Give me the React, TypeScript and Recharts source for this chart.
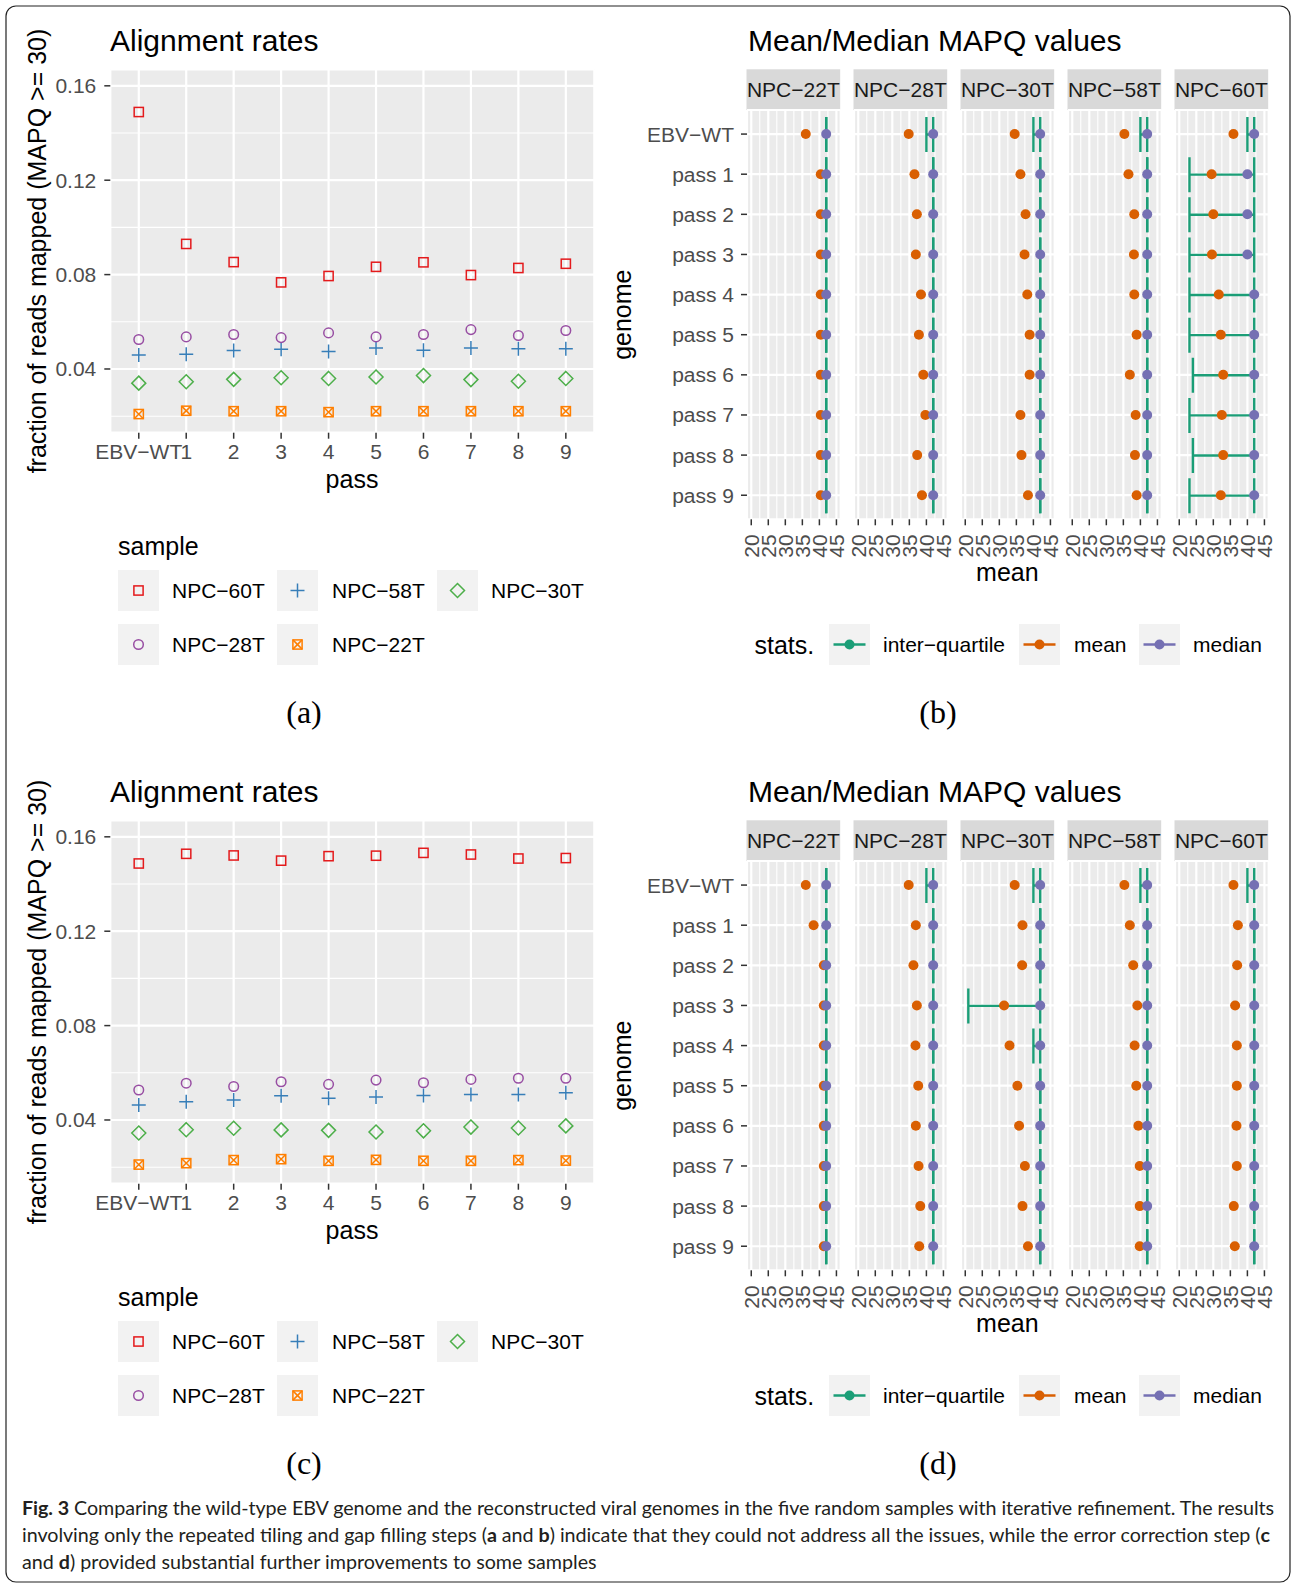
import React from 'react';
import { ComposedChart, Line, Bar, XAxis, YAxis, CartesianGrid } from 'recharts';

// ---- categories / tick labels ----
const passLabels = ['EBV−WT', '1', '2', '3', '4', '5', '6', '7', '8', '9'];
const genomeLabels = ['EBV−WT', 'pass 1', 'pass 2', 'pass 3', 'pass 4', 'pass 5', 'pass 6', 'pass 7', 'pass 8', 'pass 9'];
const sampleNames = ['NPC−60T', 'NPC−58T', 'NPC−30T', 'NPC−28T', 'NPC−22T'];
const facetNames = ['NPC−22T', 'NPC−28T', 'NPC−30T', 'NPC−58T', 'NPC−60T'];
const statNames = ['inter−quartile', 'mean', 'median'];
const rateTicks = [0.04, 0.08, 0.12, 0.16];
const rateMinorTicks = [0.02, 0.06, 0.1, 0.14];
const meanTicks = [20, 25, 30, 35, 40, 45];
const meanMinorTicks = [22.5, 27.5, 32.5, 37.5, 42.5];

// ---- (a) alignment rates, tiling + gap filling only ----
const ratesA60 = [0.1489, 0.093, 0.0853, 0.0767, 0.0794, 0.0833, 0.0852, 0.0798, 0.0828, 0.0846];
const ratesA58 = [0.0459, 0.0462, 0.0478, 0.0484, 0.0474, 0.0489, 0.0479, 0.0489, 0.0486, 0.0486];
const ratesA30 = [0.034, 0.0346, 0.0356, 0.0363, 0.036, 0.0366, 0.0372, 0.0355, 0.0348, 0.036];
const ratesA28 = [0.0525, 0.0536, 0.0546, 0.0533, 0.0553, 0.0536, 0.0546, 0.0567, 0.0542, 0.0563];
const ratesA22 = [0.0209, 0.0223, 0.0221, 0.0221, 0.0217, 0.0221, 0.0221, 0.0221, 0.0221, 0.0221];

// ---- (c) alignment rates, with error correction ----
const ratesC60 = [0.1487, 0.1528, 0.1521, 0.1499, 0.1518, 0.152, 0.1532, 0.1525, 0.1508, 0.151];
const ratesC58 = [0.0463, 0.0477, 0.0485, 0.0503, 0.0492, 0.0497, 0.0504, 0.0508, 0.0508, 0.0515];
const ratesC30 = [0.0345, 0.0359, 0.0365, 0.0358, 0.0356, 0.0349, 0.0354, 0.037, 0.0366, 0.0375];
const ratesC28 = [0.0527, 0.0556, 0.0542, 0.0562, 0.0551, 0.0569, 0.0558, 0.0572, 0.0577, 0.0577];
const ratesC22 = [0.0211, 0.0217, 0.023, 0.0234, 0.0227, 0.0231, 0.0227, 0.0227, 0.023, 0.0228];

// ---- (b) MAPQ stats ----
const bMean22 = [36.0, 40.4, 40.4, 40.4, 40.4, 40.4, 40.4, 40.4, 40.4, 40.4];
const bMedian22 = [42, 42, 42, 42, 42, 42, 42, 42, 42, 42];
const bQ1_22 = [42, 42, 42, 42, 42, 42, 42, 42, 42, 42];
const bQ3_22 = [42, 42, 42, 42, 42, 42, 42, 42, 42, 42];
const bMean28 = [34.8, 36.5, 37.2, 36.9, 38.4, 37.8, 39.1, 39.7, 37.3, 38.7];
const bMedian28 = [42, 42, 42, 42, 42, 42, 42, 42, 42, 42];
const bQ1_28 = [40, 42, 42, 42, 42, 42, 42, 42, 42, 42];
const bQ3_28 = [42, 42, 42, 42, 42, 42, 42, 42, 42, 42];
const bMean30 = [34.5, 36.2, 37.7, 37.4, 38.2, 38.9, 38.9, 36.2, 36.5, 38.4];
const bMedian30 = [42, 42, 42, 42, 42, 42, 42, 42, 42, 42];
const bQ1_30 = [40, 42, 42, 42, 42, 42, 42, 42, 42, 42];
const bQ3_30 = [42, 42, 42, 42, 42, 42, 42, 42, 42, 42];
const bMean58 = [35.3, 36.5, 38.2, 38.1, 38.2, 38.9, 36.9, 38.6, 38.4, 38.9];
const bMedian58 = [42, 42, 42, 42, 42, 42, 42, 42, 42, 42];
const bQ1_58 = [40, 42, 42, 42, 42, 42, 42, 42, 42, 42];
const bQ3_58 = [42, 42, 42, 42, 42, 42, 42, 42, 42, 42];
const bMean60 = [35.9, 29.5, 30.0, 29.6, 31.6, 32.2, 32.9, 32.5, 32.9, 32.2];
const bMedian60 = [42, 40, 40, 40, 42, 42, 42, 42, 42, 42];
const bQ1_60 = [40, 23, 23, 23, 23, 23, 24, 23, 24, 23];
const bQ3_60 = [42, 42, 42, 42, 42, 42, 42, 42, 42, 42];

// ---- (d) MAPQ stats ----
const dMean22 = [36.0, 38.3, 41.3, 41.3, 41.3, 41.3, 41.3, 41.3, 41.3, 41.3];
const dMedian22 = [42, 42, 42, 42, 42, 42, 42, 42, 42, 42];
const dQ1_22 = [42, 42, 42, 42, 42, 42, 42, 42, 42, 42];
const dQ3_22 = [42, 42, 42, 42, 42, 42, 42, 42, 42, 42];
const dMean28 = [34.8, 36.9, 36.2, 37.2, 36.8, 37.6, 36.9, 37.7, 38.2, 37.9];
const dMedian28 = [42, 42, 42, 42, 42, 42, 42, 42, 42, 42];
const dQ1_28 = [40, 42, 42, 42, 42, 42, 42, 42, 42, 42];
const dQ3_28 = [42, 42, 42, 42, 42, 42, 42, 42, 42, 42];
const dMean30 = [34.5, 36.8, 36.7, 31.4, 33.0, 35.3, 35.8, 37.5, 36.8, 38.4];
const dMedian30 = [42, 42, 42, 42, 42, 42, 42, 42, 42, 42];
const dQ1_30 = [40, 42, 42, 20.9, 40, 42, 42, 42, 42, 42];
const dQ3_30 = [42, 42, 42, 42, 42, 42, 42, 42, 42, 42];
const dMean58 = [35.3, 36.9, 37.9, 39.1, 38.3, 38.8, 39.4, 39.8, 39.8, 39.8];
const dMedian58 = [42, 42, 42, 42, 42, 42, 42, 42, 42, 42];
const dQ1_58 = [40, 42, 42, 42, 42, 42, 42, 42, 42, 42];
const dQ3_58 = [42, 42, 42, 42, 42, 42, 42, 42, 42, 42];
const dMean60 = [35.9, 37.2, 37.0, 36.4, 36.9, 36.9, 36.8, 36.9, 36.0, 36.3];
const dMedian60 = [42, 42, 42, 42, 42, 42, 42, 42, 42, 42];
const dQ1_60 = [40, 42, 42, 42, 42, 42, 42, 42, 42, 42];
const dQ3_60 = [42, 42, 42, 42, 42, 42, 42, 42, 42, 42];

// ---- styling / layout ----
const SANS = '"Liberation Sans", Arial, Helvetica, sans-serif';
const SERIF = '"Liberation Serif", "Times New Roman", serif';
const PANEL_BG = '#EBEBEB';
const TICK_TEXT = '#4D4D4D';
const TICK_LINE = '#333333';
const KEY_BG = '#F2F2F2';
const GREEN = '#1B9E77';
const ORANGE = '#D95F02';
const PURPLE = '#7570B3';
const statColors = [GREEN, ORANGE, PURPLE];
const OFFSET = 751; // vertical shift of bottom row of panels

const sampleStyle = [
  { key: 's60', color: '#E41A1C', shape: 'square' },
  { key: 's58', color: '#377EB8', shape: 'plus' },
  { key: 's30', color: '#4DAF4A', shape: 'diamond' },
  { key: 's28', color: '#984EA3', shape: 'circle' },
  { key: 's22', color: '#FF7F00', shape: 'squareX' },
];

const FACET_LEFT = 746.5;
const FACET_STEP = 107.0;
const FACET_W = 93.7;
const STRIP_TOP = 69.3;
const STRIP_H = 40.7;
const PANEL_TOP = 110;
const PANEL_H = 409.3;
const SIDE = 14; // spare room so rotated tick labels are not clipped

function Marker({ shape, cx, cy, color }: { shape: string; cx: number; cy: number; color: string }) {
  const sw = 1.5;
  if (shape === 'square') {
    return <rect x={cx - 4.6} y={cy - 4.6} width={9.2} height={9.2} fill="none" stroke={color} strokeWidth={sw} />;
  }
  if (shape === 'plus') {
    return (
      <g stroke={color} strokeWidth={sw}>
        <line x1={cx - 7} y1={cy} x2={cx + 7} y2={cy} />
        <line x1={cx} y1={cy - 7} x2={cx} y2={cy + 7} />
      </g>
    );
  }
  if (shape === 'diamond') {
    return (
      <polygon
        points={`${cx},${cy - 7} ${cx + 7},${cy} ${cx},${cy + 7} ${cx - 7},${cy}`}
        fill="none"
        stroke={color}
        strokeWidth={sw}
      />
    );
  }
  if (shape === 'circle') {
    return <circle cx={cx} cy={cy} r={4.8} fill="none" stroke={color} strokeWidth={sw} />;
  }
  return (
    <g stroke={color} strokeWidth={sw} fill="none">
      <rect x={cx - 4.6} y={cy - 4.6} width={9.2} height={9.2} />
      <line x1={cx - 4.6} y1={cy - 4.6} x2={cx + 4.6} y2={cy + 4.6} />
      <line x1={cx - 4.6} y1={cy + 4.6} x2={cx + 4.6} y2={cy - 4.6} />
    </g>
  );
}

function RatesPanel({ top, series }: { top: number; series: number[][] }) {
  const rows = passLabels.map((label, i) => {
    const row: Record<string, number | string> = { idx: i, pass: label };
    sampleStyle.forEach((s, j) => {
      row[s.key] = series[j][i];
    });
    return row;
  });

  return (
    <div style={{ position: 'absolute', left: 0, top }}>
      <ComposedChart
        width={620}
        height={520}
        data={rows}
        margin={{ top: 69.3, right: 25.7, bottom: 47.3, left: 50.3 }}
      >
        <CartesianGrid fill={PANEL_BG} fillOpacity={1} stroke="#fff" strokeWidth={2.2} />
        <CartesianGrid stroke="#fff" strokeWidth={1.1} vertical={false} horizontalValues={rateMinorTicks} />
        <XAxis
          dataKey="idx"
          type="number"
          domain={[-0.6, 9.6]}
          allowDataOverflow
          ticks={passLabels.map((_, i) => i)}
          tickFormatter={(i: number) => passLabels[i]}
          interval={0}
          height={40}
          tickSize={6}
          tickMargin={5}
          axisLine={false}
          tickLine={{ stroke: TICK_LINE, strokeWidth: 1.5 }}
          tick={{ fill: TICK_TEXT, fontSize: 21 }}
        />
        <YAxis
          type="number"
          domain={[0.013, 0.167]}
          allowDataOverflow
          ticks={rateTicks}
          tickFormatter={(v: number) => v.toFixed(2)}
          interval={0}
          width={60}
          tickSize={6}
          tickMargin={8}
          axisLine={false}
          tickLine={{ stroke: TICK_LINE, strokeWidth: 1.5 }}
          tick={{ fill: TICK_TEXT, fontSize: 21 }}
        />
        {sampleStyle.map((s) => (
          <Line
            key={s.key}
            dataKey={s.key}
            stroke="none"
            isAnimationActive={false}
            activeDot={false}
            dot={(p: any) => (
              <Marker key={`${s.key}-${p.index}`} shape={s.shape} cx={p.cx} cy={p.cy} color={s.color} />
            )}
          />
        ))}
      </ComposedChart>
    </div>
  );
}

const IqrShape = (p: any) => {
  const { x, y, width, height } = p;
  const mid = y + height / 2;
  const x2 = x + width;
  return (
    <g stroke={GREEN} strokeWidth={2.4}>
      <line x1={x} y1={mid} x2={x2} y2={mid} />
      <line x1={x} y1={y} x2={x} y2={y + height} />
      <line x1={x2} y1={y} x2={x2} y2={y + height} />
    </g>
  );
};

const RotatedTick = (p: any) => {
  const { x, y, payload } = p;
  return (
    <text
      x={x}
      y={y}
      transform={`rotate(-90 ${x} ${y})`}
      textAnchor="end"
      dy="0.35em"
      fill={TICK_TEXT}
      fontSize={21}
    >
      {payload.value}
    </text>
  );
};

type FacetStats = { mean: number[]; median: number[]; q1: number[]; q3: number[] };

function StatsPanel({ top, facets }: { top: number; facets: FacetStats[] }) {
  return (
    <>
      {facets.map((f, i) => {
        const showY = i === 0;
        const yW = showY ? 130 : 0;
        const left = FACET_LEFT + i * FACET_STEP;
        const rows = genomeLabels.map((g, k) => ({
          genome: g,
          mean: f.mean[k],
          median: f.median[k],
          iqr: [f.q1[k], f.q3[k]],
        }));
        return (
          <div key={facetNames[i]} style={{ position: 'absolute', left: left - yW - SIDE, top: top + PANEL_TOP - 10 }}>
            <ComposedChart
              layout="vertical"
              width={SIDE + yW + FACET_W + SIDE}
              height={10 + PANEL_H + 50 + 10}
              data={rows}
              margin={{ top: 10, right: SIDE, bottom: 10, left: SIDE }}
            >
              <CartesianGrid fill={PANEL_BG} fillOpacity={1} stroke="#fff" strokeWidth={2.2} />
              <CartesianGrid stroke="#fff" strokeWidth={1.1} horizontal={false} verticalValues={meanMinorTicks} />
              <XAxis
                type="number"
                domain={[18.75, 46.25]}
                allowDataOverflow
                ticks={meanTicks}
                interval={0}
                height={50}
                tickSize={6}
                tickMargin={9}
                axisLine={false}
                tickLine={{ stroke: TICK_LINE, strokeWidth: 1.5 }}
                tick={<RotatedTick />}
              />
              <YAxis
                type="category"
                dataKey="genome"
                hide={!showY}
                width={yW}
                interval={0}
                padding={{ top: 4, bottom: 4 }}
                tickSize={6}
                tickMargin={7}
                axisLine={false}
                tickLine={{ stroke: TICK_LINE, strokeWidth: 1.5 }}
                tick={{ fill: TICK_TEXT, fontSize: 21 }}
              />
              <Bar dataKey="iqr" barSize={35} shape={IqrShape} isAnimationActive={false} />
              <Line
                dataKey="mean"
                stroke="none"
                isAnimationActive={false}
                activeDot={false}
                dot={{ r: 5, fill: ORANGE, stroke: ORANGE, strokeWidth: 0 }}
              />
              <Line
                dataKey="median"
                stroke="none"
                isAnimationActive={false}
                activeDot={false}
                dot={{ r: 5, fill: PURPLE, stroke: PURPLE, strokeWidth: 0 }}
              />
            </ComposedChart>
          </div>
        );
      })}
    </>
  );
}

function HalfOverlay({ dy, left, right }: { dy: number; left: string; right: string }) {
  const rateKeys = [
    { x: 118, y: 570, lx: 172 },
    { x: 277, y: 570, lx: 332 },
    { x: 437, y: 570, lx: 491 },
    { x: 118, y: 624, lx: 172 },
    { x: 277, y: 624, lx: 332 },
  ];
  const statKeys = [
    { x: 829, lx: 883 },
    { x: 1019, lx: 1074 },
    { x: 1139, lx: 1193 },
  ];
  const stripsRight = FACET_LEFT + 4 * FACET_STEP + FACET_W;
  return (
    <g transform={`translate(0 ${dy})`}>
      <text x={110} y={51} fontSize={30} fill="#000">Alignment rates</text>
      <text x={748} y={51} fontSize={30} fill="#000">Mean/Median MAPQ values</text>

      <text transform="translate(46 251) rotate(-90)" textAnchor="middle" fontSize={25} fill="#000">
        {'fraction of reads mapped (MAPQ >= 30)'}
      </text>
      <text x={352} y={488} textAnchor="middle" fontSize={25} fill="#000">pass</text>

      <text transform="translate(631 314.7) rotate(-90)" textAnchor="middle" fontSize={25} fill="#000">genome</text>
      <text x={(FACET_LEFT + stripsRight) / 2} y={581} textAnchor="middle" fontSize={25} fill="#000">mean</text>

      {facetNames.map((n, i) => {
        const x = FACET_LEFT + i * FACET_STEP;
        return (
          <g key={n}>
            <rect x={x} y={STRIP_TOP} width={FACET_W} height={STRIP_H} fill="#D9D9D9" />
            <text x={x + FACET_W / 2} y={STRIP_TOP + 28} textAnchor="middle" fontSize={21} fill="#1A1A1A">{n}</text>
          </g>
        );
      })}

      <text x={118} y={555} fontSize={25} fill="#000">sample</text>
      {sampleNames.map((n, i) => {
        const k = rateKeys[i];
        const s = sampleStyle[i];
        return (
          <g key={n}>
            <rect x={k.x} y={k.y} width={41} height={41} fill={KEY_BG} />
            <Marker shape={s.shape} cx={k.x + 20.5} cy={k.y + 20.5} color={s.color} />
            <text x={k.lx} y={k.y + 28} fontSize={21} fill="#000">{n}</text>
          </g>
        );
      })}

      <text x={754.5} y={654} fontSize={25} fill="#000">stats.</text>
      {statNames.map((n, i) => {
        const k = statKeys[i];
        const c = statColors[i];
        return (
          <g key={n}>
            <rect x={k.x} y={624} width={41} height={41} fill={KEY_BG} />
            <line x1={k.x + 4.5} y1={644.5} x2={k.x + 36.5} y2={644.5} stroke={c} strokeWidth={2.4} />
            <circle cx={k.x + 20.5} cy={644.5} r={5} fill={c} />
            <text x={k.lx} y={652} fontSize={21} fill="#000">{n}</text>
          </g>
        );
      })}

      <text x={304} y={723} textAnchor="middle" fontSize={32} fontFamily={SERIF} fill="#000">{left}</text>
      <text x={938} y={723} textAnchor="middle" fontSize={32} fontFamily={SERIF} fill="#000">{right}</text>
    </g>
  );
}

function Overlay() {
  const capFont = 'Lato, "Open Sans", sans-serif';
  return (
    <svg width={1292} height={1585} style={{ position: 'absolute', left: 0, top: 0 }} fontFamily={SANS}>
      <rect x={6} y={6} width={1284} height={1576} rx={10} fill="none" stroke="#222" strokeWidth={1.2} />
      <HalfOverlay dy={0} left="(a)" right="(b)" />
      <HalfOverlay dy={OFFSET} left="(c)" right="(d)" />

      <g fontFamily={capFont} fontSize={19.7} fill="#231F20">
        <text x={22} y={1515} textLength={1252} lengthAdjust="spacing">
          <tspan fontWeight="bold">{'Fig. 3'}</tspan>
          {' Comparing the wild-type EBV genome and the reconstructed viral genomes in the five random samples with iterative refinement. The results'}
        </text>
        <text x={22} y={1542} textLength={1248} lengthAdjust="spacing">
          {'involving only the repeated tiling and gap filling steps ('}
          <tspan fontWeight="bold">a</tspan>
          {' and '}
          <tspan fontWeight="bold">b</tspan>
          {') indicate that they could not address all the issues, while the error correction step ('}
          <tspan fontWeight="bold">c</tspan>
        </text>
        <text x={22} y={1569}>
          {'and '}
          <tspan fontWeight="bold">d</tspan>
          {') provided substantial further improvements to some samples'}
        </text>
      </g>
    </svg>
  );
}

export default function App() {
  const seriesA = [ratesA60, ratesA58, ratesA30, ratesA28, ratesA22];
  const seriesC = [ratesC60, ratesC58, ratesC30, ratesC28, ratesC22];
  const facetsB: FacetStats[] = [
    { mean: bMean22, median: bMedian22, q1: bQ1_22, q3: bQ3_22 },
    { mean: bMean28, median: bMedian28, q1: bQ1_28, q3: bQ3_28 },
    { mean: bMean30, median: bMedian30, q1: bQ1_30, q3: bQ3_30 },
    { mean: bMean58, median: bMedian58, q1: bQ1_58, q3: bQ3_58 },
    { mean: bMean60, median: bMedian60, q1: bQ1_60, q3: bQ3_60 },
  ];
  const facetsD: FacetStats[] = [
    { mean: dMean22, median: dMedian22, q1: dQ1_22, q3: dQ3_22 },
    { mean: dMean28, median: dMedian28, q1: dQ1_28, q3: dQ3_28 },
    { mean: dMean30, median: dMedian30, q1: dQ1_30, q3: dQ3_30 },
    { mean: dMean58, median: dMedian58, q1: dQ1_58, q3: dQ3_58 },
    { mean: dMean60, median: dMedian60, q1: dQ1_60, q3: dQ3_60 },
  ];

  return (
    <div
      style={{
        position: 'absolute',
        left: 0,
        top: 0,
        width: 1292,
        height: 1585,
        background: '#fff',
        fontFamily: SANS,
        overflow: 'hidden',
      }}
    >
      <Overlay />
      <RatesPanel top={0} series={seriesA} />
      <RatesPanel top={OFFSET} series={seriesC} />
      <StatsPanel top={0} facets={facetsB} />
      <StatsPanel top={OFFSET} facets={facetsD} />
    </div>
  );
}
